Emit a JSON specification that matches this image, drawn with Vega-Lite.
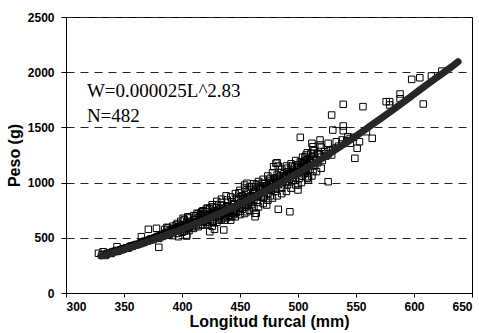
{
  "$schema": "https://vega.github.io/schema/vega-lite/v6.json",
  "width": 406,
  "height": 276,
  "autosize": {"type": "none"},
  "padding": {"left": 66, "top": 17, "right": 7, "bottom": 40},
  "background": "white",
  "config": {
    "view": {"stroke": "black", "strokeWidth": 1},
    "axis": {
      "domainColor": "black",
      "tickColor": "black",
      "labelColor": "black",
      "titleColor": "black",
      "labelFont": "Liberation Sans",
      "titleFont": "Liberation Sans",
      "labelFontWeight": "bold",
      "titleFontWeight": "bold",
      "labelFontSize": 12,
      "titleFontSize": 16
    }
  },
  "datasets": {
    "pts": [
      {"L":624,"W":2010},{"L":598,"W":1935},{"L":605,"W":1950},{"L":615,"W":1966},{"L":588,"W":1803},{"L":588,"W":1760},{"L":576,"W":1733},{"L":579,"W":1733},{"L":579,"W":1703},{"L":608,"W":1712},{"L":539,"W":1709},{"L":556,"W":1688},{"L":529,"W":1612},{"L":530,"W":1476},{"L":539,"W":1513},{"L":539,"W":1470},{"L":502,"W":1410},{"L":559,"W":1461},{"L":564,"W":1401},{"L":549,"W":1220},{"L":512,"W":1356},{"L":519,"W":1386},{"L":513,"W":1325},{"L":519,"W":1341},{"L":526,"W":1356},{"L":533,"W":1370},{"L":538,"W":1386},{"L":543,"W":1416},{"L":545,"W":1356},{"L":551,"W":1311},{"L":553,"W":1370},{"L":482,"W":1180},{"L":483,"W":1150},{"L":490,"W":1150},{"L":499,"W":1159},{"L":502,"W":1189},{"L":506,"W":1235},{"L":507,"W":1250},{"L":513,"W":1295},{"L":517,"W":1265},{"L":510,"W":1205},{"L":506,"W":1159},{"L":481,"W":1175},{"L":479,"W":1144},{"L":449,"W":908},{"L":456,"W":994},{"L":460,"W":963},{"L":464,"W":978},{"L":469,"W":994},{"L":476,"W":1039},{"L":479,"W":1024},{"L":482,"W":1069},{"L":439,"W":842},{"L":433,"W":797},{"L":424,"W":767},{"L":417,"W":736},{"L":464,"W":722},{"L":456,"W":736},{"L":473,"W":797},{"L":328,"W":360},{"L":332,"W":374},{"L":344,"W":419},{"L":365,"W":510},{"L":371,"W":577},{"L":378,"W":586},{"L":380,"W":414},{"L":387,"W":595},{"L":391,"W":577},{"L":395,"W":616},{"L":401,"W":677},{"L":405,"W":691},{"L":413,"W":722},{"L":397,"W":510},{"L":404,"W":516},{"L":404,"W":525},{"L":416,"W":722},{"L":421,"W":736},{"L":427,"W":727},{"L":424,"W":555},{"L":428,"W":577},{"L":436,"W":571},{"L":439,"W":782},{"L":443,"W":827},{"L":449,"W":858},{"L":441,"W":691},{"L":526,"W":1008},{"L":509,"W":1053},{"L":509,"W":1024},{"L":500,"W":933},{"L":500,"W":978},{"L":483,"W":758},{"L":493,"W":736},{"L":463,"W":691},{"L":463,"W":722},{"L":454,"W":978},
      {"L":331,"W":345},{"L":333,"W":350},{"L":335,"W":352},{"L":336,"W":360},{"L":338,"W":362},{"L":340,"W":372},{"L":342,"W":378},{"L":344,"W":385},{"L":345,"W":380},{"L":347,"W":392},{"L":349,"W":398},{"L":350,"W":402},{"L":352,"W":408},{"L":354,"W":410},{"L":355,"W":420},{"L":357,"W":422},{"L":358,"W":430},{"L":360,"W":436},{"L":362,"W":440},{"L":364,"W":448},{"L":365,"W":455},{"L":367,"W":458},{"L":368,"W":470},{"L":370,"W":470},{"L":372,"W":480},{"L":373,"W":488},{"L":375,"W":482},{"L":376,"W":495},{"L":378,"W":505},{"L":379,"W":512},{"L":380,"W":495},{"L":381,"W":520},{"L":382,"W":510},{"L":383,"W":530},{"L":384,"W":520},{"L":385,"W":540},{"L":386,"W":525},{"L":387,"W":548},{"L":388,"W":535},{"L":389,"W":560},{"L":390,"W":545},{"L":391,"W":570},{"L":392,"W":550},{"L":393,"W":580},{"L":394,"W":560},{"L":395,"W":590},{"L":396,"W":565},{"L":397,"W":600},{"L":398,"W":575},{"L":399,"W":610},{"L":400,"W":585},{"L":401,"W":620},{"L":402,"W":560},{"L":403,"W":600},{"L":404,"W":640},{"L":405,"W":590},{"L":406,"W":625},{"L":407,"W":610},{"L":408,"W":650},{"L":409,"W":600},{"L":410,"W":630},{"L":411,"W":665},{"L":412,"W":610},{"L":413,"W":645},{"L":414,"W":680},{"L":415,"W":640},{"L":416,"W":620},{"L":417,"W":670},{"L":418,"W":700},{"L":419,"W":650},{"L":420,"W":680},{"L":421,"W":640},{"L":422,"W":700},{"L":423,"W":660},{"L":424,"W":720},{"L":425,"W":690},{"L":426,"W":650},{"L":427,"W":710},{"L":428,"W":740},{"L":429,"W":690},{"L":430,"W":720},{"L":431,"W":680},{"L":432,"W":750},{"L":433,"W":700},{"L":434,"W":730},{"L":435,"W":770},{"L":436,"W":690},{"L":437,"W":740},{"L":438,"W":760},{"L":439,"W":720},{"L":440,"W":790},{"L":441,"W":750},{"L":442,"W":700},{"L":443,"W":780},{"L":444,"W":740},{"L":445,"W":810},{"L":446,"W":770},{"L":447,"W":730},{"L":448,"W":800},{"L":449,"W":840},{"L":450,"W":780},{"L":451,"W":820},{"L":452,"W":760},{"L":453,"W":850},{"L":454,"W":800},{"L":455,"W":830},{"L":456,"W":870},{"L":457,"W":790},{"L":458,"W":850},{"L":459,"W":880},{"L":460,"W":820},{"L":461,"W":900},{"L":462,"W":850},{"L":463,"W":870},{"L":464,"W":920},{"L":465,"W":840},{"L":466,"W":890},{"L":467,"W":940},{"L":468,"W":870},{"L":469,"W":910},{"L":470,"W":950},{"L":471,"W":880},{"L":472,"W":930},{"L":473,"W":970},{"L":474,"W":900},{"L":475,"W":950},{"L":476,"W":1000},{"L":477,"W":930},{"L":478,"W":980},{"L":479,"W":1010},{"L":480,"W":950},{"L":481,"W":1000},{"L":482,"W":1040},{"L":483,"W":980},{"L":484,"W":1020},{"L":485,"W":1060},{"L":486,"W":990},{"L":487,"W":1040},{"L":488,"W":1080},{"L":489,"W":1010},{"L":490,"W":1060},{"L":491,"W":1100},{"L":492,"W":1030},{"L":493,"W":1080},{"L":494,"W":1120},{"L":495,"W":1050},{"L":496,"W":1100},{"L":497,"W":1140},{"L":498,"W":1070},{"L":499,"W":1120},{"L":500,"W":1160},{"L":501,"W":1090},{"L":502,"W":1130},{"L":503,"W":1180},{"L":504,"W":1110},{"L":505,"W":1150},{"L":506,"W":1200},{"L":507,"W":1130},{"L":508,"W":1170},{"L":510,"W":1220},{"L":512,"W":1180},{"L":514,"W":1240},{"L":516,"W":1200},{"L":518,"W":1260},{"L":520,"W":1230},{"L":523,"W":1280},{"L":526,"W":1260},{"L":530,"W":1300},
      {"L":334,"W":340},{"L":339,"W":358},{"L":343,"W":375},{"L":348,"W":392},{"L":353,"W":405},{"L":356,"W":425},{"L":361,"W":440},{"L":366,"W":458},{"L":371,"W":476},{"L":374,"W":492},{"L":377,"W":500},{"L":383,"W":515},{"L":386,"W":540},{"L":389,"W":530},{"L":392,"W":575},{"L":395,"W":575},{"L":398,"W":595},{"L":401,"W":600},{"L":403,"W":585},{"L":406,"W":600},{"L":409,"W":640},{"L":412,"W":640},{"L":415,"W":660},{"L":418,"W":680},{"L":420,"W":700},{"L":422,"W":670},{"L":425,"W":710},{"L":428,"W":700},{"L":431,"W":730},{"L":433,"W":760},{"L":436,"W":750},{"L":438,"W":730},{"L":441,"W":770},{"L":444,"W":800},{"L":446,"W":760},{"L":449,"W":790},{"L":451,"W":850},{"L":454,"W":860},{"L":456,"W":820},{"L":459,"W":840},{"L":461,"W":870},{"L":464,"W":880},{"L":467,"W":900},{"L":469,"W":950},{"L":472,"W":960},{"L":474,"W":940},{"L":477,"W":990},{"L":479,"W":960},{"L":482,"W":990},{"L":484,"W":1050},{"L":487,"W":1010},{"L":489,"W":1050},{"L":492,"W":1080},{"L":494,"W":1070},{"L":497,"W":1090},{"L":499,"W":1100},{"L":502,"W":1100},{"L":504,"W":1150},{"L":507,"W":1160},{"L":509,"W":1120},{"L":511,"W":1190},{"L":513,"W":1150},{"L":515,"W":1210},{"L":517,"W":1180},{"L":519,"W":1250},{"L":521,"W":1200},{"L":524,"W":1240},{"L":527,"W":1290},{"L":529,"W":1250},{"L":532,"W":1310},{"L":535,"W":1330},{"L":538,"W":1350},{"L":542,"W":1380},{"L":545,"W":1400},{"L":548,"W":1410},
      {"L":421,"W":760},{"L":426,"W":780},{"L":430,"W":800},{"L":434,"W":820},{"L":437,"W":660},{"L":443,"W":690},{"L":447,"W":860},{"L":452,"W":880},{"L":457,"W":920},{"L":462,"W":940},{"L":466,"W":960},{"L":471,"W":990},{"L":475,"W":1020},{"L":480,"W":1040},{"L":485,"W":1090},{"L":490,"W":1000},{"L":495,"W":1150},{"L":498,"W":1020},{"L":503,"W":1060},{"L":506,"W":1100},{"L":412,"W":700},{"L":416,"W":710},{"L":424,"W":760},{"L":427,"W":640},{"L":432,"W":660},{"L":440,"W":700},{"L":445,"W":720},{"L":450,"W":740},{"L":455,"W":780},{"L":460,"W":800},{"L":465,"W":820},{"L":470,"W":860},{"L":476,"W":880},{"L":481,"W":920},{"L":486,"W":950},{"L":491,"W":980},{"L":496,"W":1020},{"L":501,"W":1040},{"L":505,"W":1080},{"L":508,"W":1210},{"L":511,"W":1260},{"L":513,"W":1100},
      {"L":385,"W":575},{"L":388,"W":590},{"L":392,"W":605},{"L":396,"W":630},{"L":399,"W":650},{"L":402,"W":665},{"L":406,"W":680},{"L":410,"W":700},{"L":414,"W":720},{"L":418,"W":745},{"L":422,"W":770},{"L":426,"W":800},{"L":430,"W":830},{"L":434,"W":850},{"L":438,"W":880},{"L":442,"W":870},{"L":446,"W":900},{"L":450,"W":930},{"L":454,"W":950},{"L":458,"W":960},{"L":462,"W":990},{"L":466,"W":1010},{"L":470,"W":1030},{"L":474,"W":1060},{"L":478,"W":1090},{"L":486,"W":1120},{"L":490,"W":1130},{"L":494,"W":1170},{"L":498,"W":1200},{"L":504,"W":1230},{"L":508,"W":1270},{"L":514,"W":1290},{"L":520,"W":1320},
      {"L":392,"W":520},{"L":396,"W":540},{"L":400,"W":550},{"L":406,"W":565},{"L":410,"W":585},{"L":414,"W":600},{"L":418,"W":615},{"L":422,"W":625},{"L":426,"W":605},{"L":430,"W":640},{"L":434,"W":665},{"L":438,"W":680},{"L":442,"W":660},{"L":446,"W":690},{"L":450,"W":710},{"L":454,"W":720},{"L":458,"W":750},{"L":462,"W":770},{"L":466,"W":780},{"L":470,"W":810},{"L":474,"W":840},{"L":478,"W":860},{"L":482,"W":880},{"L":486,"W":900},{"L":490,"W":920},{"L":494,"W":950},{"L":498,"W":980},{"L":503,"W":1000},{"L":508,"W":1040},{"L":512,"W":1060},{"L":516,"W":1100},{"L":520,"W":1130}
    ],
    "curve": [
      {"L":330,"W":335},{"L":340,"W":365},{"L":350,"W":396},{"L":360,"W":429},{"L":370,"W":463},{"L":380,"W":500},{"L":390,"W":538},{"L":400,"W":578},{"L":410,"W":620},{"L":420,"W":663},{"L":430,"W":709},{"L":440,"W":757},{"L":450,"W":806},{"L":460,"W":858},{"L":470,"W":912},{"L":480,"W":968},{"L":490,"W":1026},{"L":500,"W":1086},{"L":510,"W":1149},{"L":520,"W":1214},{"L":530,"W":1281},{"L":540,"W":1350},{"L":550,"W":1422},{"L":560,"W":1496},{"L":570,"W":1570},{"L":580,"W":1645},{"L":590,"W":1722},{"L":600,"W":1800},{"L":610,"W":1878},{"L":620,"W":1955},{"L":630,"W":2030},{"L":638,"W":2095}
    ],
    "notes": [
      {"L":318,"W":1775,"label":"W=0.000025L^2.83"},
      {"L":318,"W":1549,"label":"N=482"}
    ]
  },
  "layer": [
    {
      "data": {"name": "pts"},
      "mark": {"type": "point", "shape": "square", "filled": false, "stroke": "black", "strokeWidth": 1, "size": 42, "opacity": 1},
      "encoding": {
        "x": {"field": "L", "type": "quantitative",
              "scale": {"domain": [300, 650], "nice": false, "zero": false},
              "axis": {"title": "Longitud furcal (mm)", "format": "d", "values": [300,350,400,450,500,550,600,650], "grid": false, "tickSize": 4, "labelPadding": 4, "titlePadding": 1}},
        "y": {"field": "W", "type": "quantitative",
              "scale": {"domain": [0, 2500], "nice": false},
              "axis": {"title": "Peso (g)", "format": "d", "values": [0,500,1000,1500,2000,2500], "grid": true, "gridDash": [8,6], "gridColor": "#222", "gridWidth": 1, "tickSize": 5, "labelPadding": 7, "titlePadding": 5}}
      }
    },
    {
      "data": {"name": "curve"},
      "mark": {"type": "line", "color": "#262626", "strokeWidth": 7, "strokeCap": "round", "interpolate": "monotone"},
      "encoding": {
        "x": {"field": "L", "type": "quantitative"},
        "y": {"field": "W", "type": "quantitative"}
      }
    },
    {
      "data": {"name": "notes"},
      "mark": {"type": "text", "font": "Liberation Serif", "fontSize": 19, "align": "left", "baseline": "alphabetic", "color": "black"},
      "encoding": {
        "x": {"field": "L", "type": "quantitative"},
        "y": {"field": "W", "type": "quantitative"},
        "text": {"field": "label"}
      }
    }
  ]
}
